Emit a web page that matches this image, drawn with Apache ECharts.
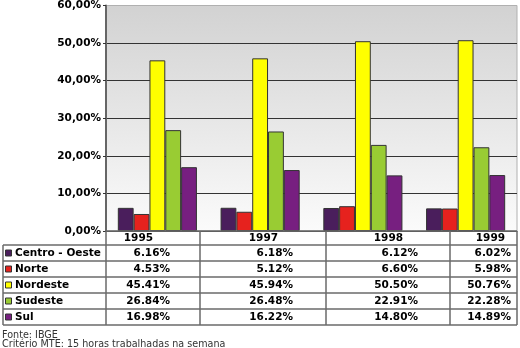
<!DOCTYPE html>
<html><head><meta charset="utf-8">
<script src="https://cdn.jsdelivr.net/npm/echarts@6/dist/echarts.min.js"></script>
<style>html,body{margin:0;padding:0;background:#fff}#c{width:520px;height:348px}</style>
</head><body><div id="c"></div>
<script>
const years = ['1995', '1997', '1998', '1999'];
const regions = ['Centro - Oeste', 'Norte', 'Nordeste', 'Sudeste', 'Sul'];
const centroOeste = [6.16, 6.18, 6.12, 6.02];
const norte = [4.53, 5.12, 6.60, 5.98];
const nordeste = [45.41, 45.94, 50.50, 50.76];
const sudeste = [26.84, 26.48, 22.91, 22.28];
const sul = [16.98, 16.22, 14.80, 14.89];
const footnotes = ['Fonte: IBGE', 'Critério MTE: 15 horas trabalhadas na semana'];

const seriesData = [centroOeste, norte, nordeste, sudeste, sul];
const colors = ['#4a1e5c', '#e6221e', '#ffff00', '#99cc33', '#771f80'];
const FONT = 'DejaVu Sans';

const chart = echarts.init(document.getElementById('c'), null, {renderer: 'canvas'});

// table layout
const colX = [3, 106, 200, 326, 450, 517];
const rowY = [231, 245, 261, 277, 293, 309, 325];
const headRight = [153, 278, 403, 505];
const valRight = [170, 293, 418, 511];
const lineColor = '#6a6a6a';
const g = [];
function hline(x1, x2, y) { g.push({type: 'line', shape: {x1, y1: y, x2, y2: y}, style: {stroke: lineColor, lineWidth: 1.5}, z: 10}); }
function vline(x, y1, y2) { g.push({type: 'line', shape: {x1: x, y1, x2: x, y2}, style: {stroke: lineColor, lineWidth: 1.5}, z: 10}); }
hline(colX[1], colX[5], rowY[0]);
for (let i = 1; i < rowY.length; i++) hline(colX[0], colX[5], rowY[i]);
vline(colX[0], rowY[1], rowY[6]);
for (let j = 1; j < colX.length; j++) vline(colX[j], rowY[0], rowY[6]);
years.forEach((y, j) => {
  g.push({type: 'text', x: headRight[j], y: (rowY[0] + rowY[1]) / 2 + 0.5, z: 11,
    style: {text: y, fill: '#000', font: 'bold 10.5px "' + FONT + '"', textAlign: 'right', textVerticalAlign: 'middle'}});
});
regions.forEach((r, i) => {
  const cy = (rowY[i + 1] + rowY[i + 2]) / 2;
  g.push({type: 'rect', shape: {x: 5.5, y: cy - 3, width: 6, height: 6}, style: {fill: colors[i], stroke: '#333', lineWidth: 1}, z: 11});
  g.push({type: 'text', x: 15, y: cy, z: 11,
    style: {text: r, fill: '#000', font: 'bold 10.5px "' + FONT + '"', textAlign: 'left', textVerticalAlign: 'middle'}});
  seriesData[i].forEach((v, j) => {
    g.push({type: 'text', x: valRight[j], y: cy, z: 11,
      style: {text: v.toFixed(2) + '%', fill: '#000', font: 'bold 10.5px "' + FONT + '"', textAlign: 'right', textVerticalAlign: 'middle'}});
  });
});
footnotes.forEach((t, k) => {
  g.push({type: 'text', x: 2, y: 335.5 + k * 9, z: 11,
    style: {text: t, fill: '#333', font: '9.6px "' + FONT + '"', textAlign: 'left', textVerticalAlign: 'middle'}});
});

chart.setOption({
  animation: false,
  backgroundColor: '#fff',
  grid: {left: 106, right: 3, top: 5, bottom: 117, show: true, borderColor: '#b0b0b0', borderWidth: 1,
    backgroundColor: new echarts.graphic.LinearGradient(0, 0, 0, 1, [
      {offset: 0, color: '#d2d2d2'}, {offset: 1, color: '#fbfbfb'}])},
  xAxis: {type: 'category', data: years,
    axisLine: {show: true, lineStyle: {color: '#444', width: 1}},
    axisTick: {show: false}, axisLabel: {show: false}},
  yAxis: {type: 'value', min: 0, max: 60, interval: 10,
    axisLine: {show: true, lineStyle: {color: '#666', width: 2}},
    axisTick: {show: true, length: 3, lineStyle: {color: '#333'}},
    axisLabel: {margin: 5, color: '#000', fontFamily: FONT, fontWeight: 'bold', fontSize: 10.5,
      formatter: v => v.toFixed(2).replace('.', ',') + '%'},
    splitLine: {show: true, lineStyle: {color: ['#333', '#333', '#333', '#333', '#333', '#333', '#b0b0b0'], width: 1}}},
  series: regions.map((r, i) => ({
    name: r, type: 'bar', data: seriesData[i], barGap: '0%', barCategoryGap: '23%',
    itemStyle: {color: colors[i], borderColor: '#333', borderWidth: 1}
  })),
  graphic: g
});
</script></body></html>
